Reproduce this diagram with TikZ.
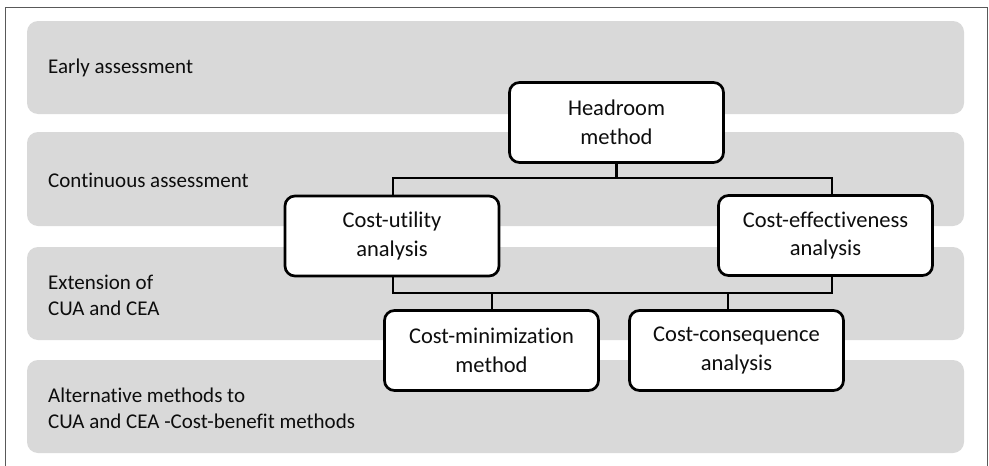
\documentclass[tikz,border=0pt]{standalone}
\usepackage{fontspec}
\setmainfont[Ligatures={NoCommon},RawFeature={-liga;-clig}]{Carlito}
\definecolor{bandgray}{HTML}{D9D9D9}
\definecolor{framegray}{HTML}{595959}
\definecolor{txt}{HTML}{0D0D0D}
\begin{document}
\begin{tikzpicture}[x=1pt,y=-1pt,
  band/.style={fill=bandgray,draw=none,rounded corners=11pt},
  bandlabel/.style={anchor=west,align=left,text=txt,inner sep=0pt,
    font=\fontsize{21}{26}\selectfont},
  method/.style={draw=black,line width=2.7pt,rounded corners=10pt,fill=white,
    minimum width=214pt,minimum height=80pt,inner sep=0pt,align=center,
    text=txt,font=\fontsize{22.5}{28.5}\selectfont},
  conn/.style={draw=black,line width=2.6pt}]
\useasboundingbox (0,0) rectangle (989,466);
\fill[white] (0,0) rectangle (989,466);
% frame
\draw[framegray,line width=1pt] (5,470) -- (5,7) -- (987,7) -- (987,470);
% bands
\path[band] (27,21) rectangle (964,114);
\path[band] (27,132) rectangle (964,226);
\path[band] (27,247) rectangle (964,340);
\path[band] (27,360) rectangle (964,453);
% band labels
\node[bandlabel] (l1) at (48,68) {Early assessment};
\node[bandlabel] (l2) at (48,180) {Continuous assessment};
\node[bandlabel] (l3) at (48,295) {Extension of\\CUA and CEA};
\node[bandlabel] (l4) at (48,408) {Alternative methods to\\CUA and CEA -Cost-benefit methods};
% bus coordinates
\coordinate (busT) at (0,178);
\coordinate (busB) at (0,293);
% method boxes
\node[method] (HR) at (616.5,122.5) {Headroom\\method};
\node[method] (CU) at (392,236) {Cost-utility\\analysis};
\node[method] (CE) at (825.5,235.5) {Cost-effectiveness\\analysis};
\node[method] (CM) at (491.5,350.5) {Cost-minimization\\method};
\node[method] (CC) at (736.5,350.5) {Cost-consequence\\analysis};
% connectors
\draw[conn] (HR.south) -- (HR.south |- busT);
\draw[conn] ([xshift=1pt]CU.north) |- (HR.south |- busT) -| ([xshift=6.5pt]CE.north);
\draw[conn] ([xshift=1pt]CU.south) |- ([xshift=6.5pt]CE.south |- busB) -- ([xshift=6.5pt]CE.south);
\draw[conn] ([xshift=0.5pt]CM.north) -- ([xshift=0.5pt]CM.north |- busB);
\draw[conn] ([xshift=-8.5pt]CC.north) -- ([xshift=-8.5pt]CC.north |- busB);
\end{tikzpicture}
\end{document}
